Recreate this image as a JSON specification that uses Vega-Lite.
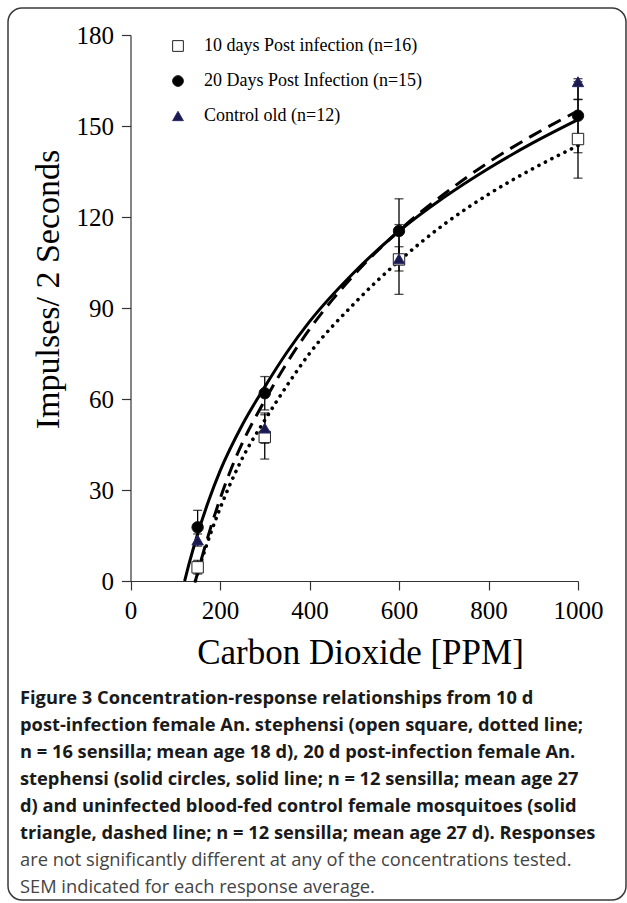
{
  "$schema": "https://vega.github.io/schema/vega-lite/v6.json",
  "width": 618,
  "height": 892,
  "autosize": {"type": "none"},
  "padding": {"left": 8, "top": 8, "right": 1, "bottom": 3},
  "background": "white",
  "datasets": {
    "pts": [
      {"ppm": 150, "series": "10 days Post infection (n=16)", "value": 4.5, "lo": 2.3, "hi": 6.8},
      {"ppm": 300, "series": "10 days Post infection (n=16)", "value": 47.5, "lo": 40.2, "hi": 54.8},
      {"ppm": 600, "series": "10 days Post infection (n=16)", "value": 106, "lo": 94.5, "hi": 117.5},
      {"ppm": 1000, "series": "10 days Post infection (n=16)", "value": 145.7, "lo": 132.8, "hi": 158.7},
      {"ppm": 150, "series": "20 Days Post Infection (n=15)", "value": 17.7, "lo": 12.1, "hi": 23.3},
      {"ppm": 300, "series": "20 Days Post Infection (n=15)", "value": 61.9, "lo": 56.4, "hi": 67.4},
      {"ppm": 600, "series": "20 Days Post Infection (n=15)", "value": 115.4, "lo": 104.8, "hi": 126},
      {"ppm": 1000, "series": "20 Days Post Infection (n=15)", "value": 153.4, "lo": 141.2, "hi": 165.6},
      {"ppm": 150, "series": "Control old (n=12)", "value": 13.5, "lo": 11.5, "hi": 15.5},
      {"ppm": 300, "series": "Control old (n=12)", "value": 50.4, "lo": 45.4, "hi": 55.4},
      {"ppm": 600, "series": "Control old (n=12)", "value": 106.2, "lo": 102.2, "hi": 110.2},
      {"ppm": 1000, "series": "Control old (n=12)", "value": 164.6, "lo": 158.8, "hi": 164.6}
    ],
    "curves": [
      {"ppm": 145, "series": "10d", "value": 0},
      {"ppm": 160, "series": "10d", "value": 7.3},
      {"ppm": 180, "series": "10d", "value": 16.1},
      {"ppm": 200, "series": "10d", "value": 23.9},
      {"ppm": 225, "series": "10d", "value": 32.7},
      {"ppm": 250, "series": "10d", "value": 40.5},
      {"ppm": 300, "series": "10d", "value": 53},
      {"ppm": 350, "series": "10d", "value": 64.5},
      {"ppm": 400, "series": "10d", "value": 75},
      {"ppm": 500, "series": "10d", "value": 91.5},
      {"ppm": 600, "series": "10d", "value": 105.5},
      {"ppm": 700, "series": "10d", "value": 117.5},
      {"ppm": 800, "series": "10d", "value": 127.5},
      {"ppm": 900, "series": "10d", "value": 136},
      {"ppm": 1000, "series": "10d", "value": 143.5},
      {"ppm": 121, "series": "20d", "value": 0},
      {"ppm": 130, "series": "20d", "value": 5.2},
      {"ppm": 150, "series": "20d", "value": 15.5},
      {"ppm": 175, "series": "20d", "value": 26.6},
      {"ppm": 200, "series": "20d", "value": 36.2},
      {"ppm": 250, "series": "20d", "value": 51.5},
      {"ppm": 300, "series": "20d", "value": 64},
      {"ppm": 350, "series": "20d", "value": 75.5},
      {"ppm": 400, "series": "20d", "value": 85.5},
      {"ppm": 500, "series": "20d", "value": 101.8},
      {"ppm": 600, "series": "20d", "value": 115.3},
      {"ppm": 700, "series": "20d", "value": 126.4},
      {"ppm": 800, "series": "20d", "value": 136},
      {"ppm": 900, "series": "20d", "value": 144.5},
      {"ppm": 1000, "series": "20d", "value": 152.1},
      {"ppm": 145, "series": "ctrl", "value": 0},
      {"ppm": 160, "series": "ctrl", "value": 8},
      {"ppm": 180, "series": "ctrl", "value": 18},
      {"ppm": 200, "series": "ctrl", "value": 27},
      {"ppm": 225, "series": "ctrl", "value": 37},
      {"ppm": 250, "series": "ctrl", "value": 45.5},
      {"ppm": 300, "series": "ctrl", "value": 59.5},
      {"ppm": 350, "series": "ctrl", "value": 72},
      {"ppm": 400, "series": "ctrl", "value": 83},
      {"ppm": 450, "series": "ctrl", "value": 92.5},
      {"ppm": 500, "series": "ctrl", "value": 101},
      {"ppm": 600, "series": "ctrl", "value": 115.5},
      {"ppm": 700, "series": "ctrl", "value": 127.5},
      {"ppm": 800, "series": "ctrl", "value": 138},
      {"ppm": 900, "series": "ctrl", "value": 147},
      {"ppm": 1000, "series": "ctrl", "value": 155}
    ]
  },
  "title": {
    "text": [
      "Figure 3 Concentration-response relationships from 10 d",
      "post-infection female An. stephensi (open square, dotted line;",
      "n = 16 sensilla; mean age 18 d), 20 d post-infection female An.",
      "stephensi (solid circles, solid line; n = 12 sensilla; mean age 27",
      "d) and uninfected blood-fed control female mosquitoes (solid",
      "triangle, dashed line; n = 12 sensilla; mean age 27 d). Responses"
    ],
    "subtitle": [
      "are not significantly different at any of the concentrations tested.",
      "SEM indicated for each response average."
    ],
    "orient": "bottom",
    "anchor": "start",
    "frame": "group",
    "offset": -210,
    "dx": 12,
    "font": "Open Sans",
    "fontSize": 18.3,
    "fontWeight": "bold",
    "lineHeight": 27,
    "color": "#1a1a1a",
    "subtitleFont": "Open Sans",
    "subtitleFontSize": 18.3,
    "subtitleFontWeight": "normal",
    "subtitleLineHeight": 27,
    "subtitleColor": "#444444",
    "subtitlePadding": 8.7
  },
  "layer": [
    {
      "data": {"name": "curves"},
      "transform": [{"filter": "datum.series === '10d'"}],
      "mark": {"type": "line", "color": "black", "strokeWidth": 3.6, "strokeDash": [0.1, 7.2], "strokeCap": "round", "interpolate": "monotone"},
      "encoding": {
        "x": {
          "field": "ppm", "type": "quantitative",
          "scale": {"domain": [0, 1000], "range": [122.5, 570], "nice": false, "zero": false},
          "axis": {
            "title": "Carbon Dioxide [PPM]", "orient": "bottom", "offset": -319, "format": "d",
            "values": [0, 200, 400, 600, 800, 1000], "grid": false,
            "domainColor": "#333333", "domainWidth": 1.2, "tickColor": "#333333", "tickWidth": 1.2, "tickSize": 9,
            "labelFont": "Liberation Serif", "labelFontSize": 25, "labelColor": "black", "labelPadding": 8, "labelFlush": false, "labelOverlap": false,
            "titleFont": "Liberation Serif", "titleFontSize": 35, "titleFontWeight": "normal", "titleColor": "black",
            "titleX": 352, "titleY": 82, "titleBaseline": "alphabetic", "titleAlign": "center"
          }
        },
        "y": {
          "field": "value", "type": "quantitative",
          "scale": {"domain": [0, 180], "range": [573, 27], "nice": false, "zero": false},
          "axis": {
            "title": "Impulses/ 2 Seconds", "orient": "left", "offset": -122.5,
            "values": [0, 30, 60, 90, 120, 150, 180], "grid": false,
            "domainColor": "#333333", "domainWidth": 1.2, "tickColor": "#333333", "tickWidth": 1.2, "tickSize": 9,
            "labelFont": "Liberation Serif", "labelFontSize": 25, "labelColor": "black", "labelPadding": 8, "labelFlush": false, "labelOverlap": false,
            "titleFont": "Liberation Serif", "titleFontSize": 34, "titleFontWeight": "normal", "titleColor": "black",
            "titleX": -82.5, "titleY": 281, "titleBaseline": "middle", "titleAlign": "center", "titleAngle": -90
          }
        }
      }
    },
    {
      "data": {"name": "curves"},
      "transform": [{"filter": "datum.series === 'ctrl'"}],
      "mark": {"type": "line", "color": "black", "strokeWidth": 3, "strokeDash": [14, 8], "interpolate": "monotone"},
      "encoding": {
        "x": {"field": "ppm", "type": "quantitative"},
        "y": {"field": "value", "type": "quantitative"}
      }
    },
    {
      "data": {"name": "curves"},
      "transform": [{"filter": "datum.series === '20d'"}],
      "mark": {"type": "line", "color": "black", "strokeWidth": 3, "interpolate": "monotone"},
      "encoding": {
        "x": {"field": "ppm", "type": "quantitative"},
        "y": {"field": "value", "type": "quantitative"}
      }
    },
    {
      "data": {"name": "pts"},
      "mark": {"type": "rule", "color": "black", "strokeWidth": 1.3},
      "encoding": {
        "x": {"field": "ppm", "type": "quantitative"},
        "y": {"field": "lo", "type": "quantitative"},
        "y2": {"field": "hi"}
      }
    },
    {
      "data": {"name": "pts"},
      "mark": {"type": "tick", "orient": "horizontal", "color": "black", "size": 9, "thickness": 1.3},
      "encoding": {
        "x": {"field": "ppm", "type": "quantitative"},
        "y": {"field": "lo", "type": "quantitative"}
      }
    },
    {
      "data": {"name": "pts"},
      "mark": {"type": "tick", "orient": "horizontal", "color": "black", "size": 9, "thickness": 1.3},
      "encoding": {
        "x": {"field": "ppm", "type": "quantitative"},
        "y": {"field": "hi", "type": "quantitative"}
      }
    },
    {
      "data": {"name": "pts"},
      "mark": {"type": "point", "filled": true, "strokeWidth": 1, "opacity": 1, "size": 130},
      "encoding": {
        "x": {"field": "ppm", "type": "quantitative"},
        "y": {"field": "value", "type": "quantitative"},
        "fill": {
          "field": "series", "type": "nominal",
          "scale": {"domain": ["10 days Post infection (n=16)", "20 Days Post Infection (n=15)", "Control old (n=12)"], "range": ["white", "black", "#1a1a4e"]},
          "legend": {"title": null, "orient": "none", "legendX": 161, "legendY": 29}
        },
        "shape": {
          "field": "series", "type": "nominal",
          "scale": {"domain": ["10 days Post infection (n=16)", "20 Days Post Infection (n=15)", "Control old (n=12)"], "range": ["square", "circle", "triangle-up"]},
          "legend": {"title": null, "orient": "none", "legendX": 161, "legendY": 29}
        },
        "stroke": {
          "field": "series", "type": "nominal",
          "scale": {"domain": ["10 days Post infection (n=16)", "20 Days Post Infection (n=15)", "Control old (n=12)"], "range": ["#222222", "#111111", "#2a2a6a"]},
          "legend": {"title": null, "orient": "none", "legendX": 161, "legendY": 29}
        }
      }
    }
  ],
  "config": {
    "view": {"stroke": "#3a3a3a", "strokeWidth": 1.5, "cornerRadius": 14},
    "axis": {"grid": false},
    "legend": {
      "padding": 0, "symbolSize": 115, "symbolStrokeWidth": 1,
      "labelFont": "Liberation Serif", "labelFontSize": 18, "labelColor": "black",
      "labelOffset": 17, "rowPadding": 17, "labelLimit": 400
    }
  }
}
